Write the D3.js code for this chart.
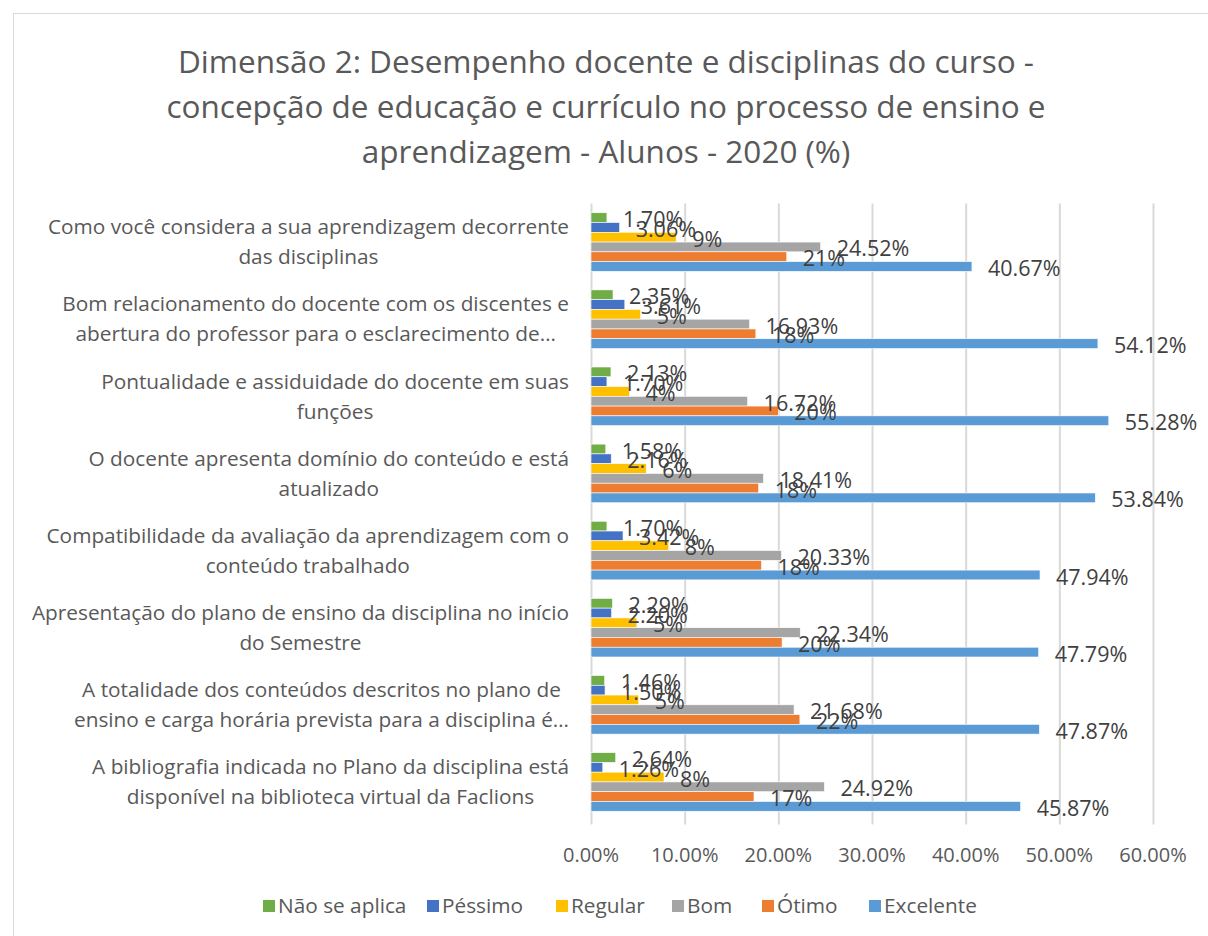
<!DOCTYPE html>
<html>
<head>
<meta charset="utf-8">
<script src="https://cdn.jsdelivr.net/npm/d3@7"></script>
<style>
  body { margin: 0; background: #fff; }
  svg text { font-family: "Open Sans", sans-serif; }
</style>
</head>
<body>
<div id="chart"></div>
<script>
// categories (two lines each, as wrapped in the original)
const categories = [
  "Como você considera a sua aprendizagem decorrente\ndas disciplinas",
  "Bom relacionamento do docente com os discentes e\nabertura do professor para o esclarecimento de…",
  "Pontualidade e assiduidade do docente em suas\nfunções",
  "O docente apresenta domínio do conteúdo e está\natualizado",
  "Compatibilidade da avaliação da aprendizagem com o\nconteúdo trabalhado",
  "Apresentação do plano de ensino da disciplina no início\ndo Semestre",
  "A totalidade dos conteúdos descritos no plano de\nensino e carga horária prevista para a disciplina é…",
  "A bibliografia indicada no Plano da disciplina está\ndisponível na biblioteca virtual da Faclions"
];

const seriesNames = ["Não se aplica", "Péssimo", "Regular", "Bom", "Ótimo", "Excelente"];

// values in percent
const naoSeAplica = [1.70, 2.35, 2.13, 1.58, 1.70, 2.29, 1.46, 2.64];
const pessimo     = [3.06, 3.61, 1.70, 2.16, 3.42, 2.20, 1.50, 1.26];
const regular     = [9.1, 5.3, 4.1, 5.9, 8.3, 4.9, 5.1, 7.8];
const bom         = [24.52, 16.93, 16.72, 18.41, 20.33, 22.34, 21.68, 24.92];
const otimo       = [20.9, 17.6, 20.0, 17.9, 18.2, 20.4, 22.3, 17.4];
const excelente   = [40.67, 54.12, 55.28, 53.84, 47.94, 47.79, 47.87, 45.87];

const xTicks = [0, 10, 20, 30, 40, 50, 60];

const titleLines = [
  "Dimensão 2: Desempenho docente e disciplinas do curso -",
  "concepção de educação e currículo no processo de ensino e",
  "aprendizagem - Alunos - 2020 (%)"
];

const seriesValues = [naoSeAplica, pessimo, regular, bom, otimo, excelente];
const seriesDecimals = [2, 2, 0, 2, 0, 2];
const colors = ["#70AD47", "#4472C4", "#FFC000", "#A5A5A5", "#ED7D31", "#5B9BD5"];

const W = 1208, H = 936;
const plot = {left: 591, right: 1153, top: 203.5, bottom: 820.5};

const svg = d3.select("#chart").append("svg")
  .attr("width", W)
  .attr("height", H);

// chart border
svg.append("rect")
  .attr("x", 13.5).attr("y", 13.5)
  .attr("width", 1200).attr("height", 940)
  .attr("fill", "#fff")
  .attr("stroke", "#d9d9d9");

// title
svg.append("g").selectAll("text")
  .data(titleLines)
  .join("text")
  .attr("x", 606)
  .attr("y", (d, i) => 62 + i * 45)
  .attr("dy", "0.35em")
  .attr("text-anchor", "middle")
  .attr("font-size", 31.5)
  .attr("fill", "#595959")
  .text(d => d);

const x = d3.scaleLinear().domain([0, 60]).range([plot.left, plot.right]);
const y0 = d3.scaleBand().domain(categories).range([plot.top, plot.bottom])
  .paddingInner(0.24).paddingOuter(0.12);
const y1 = d3.scaleBand().domain(seriesNames).range([0, y0.bandwidth()]);

// gridlines
svg.append("g")
  .attr("transform", `translate(0,${plot.bottom + 4})`)
  .call(d3.axisBottom(x).tickValues(xTicks).tickSize(-(plot.bottom - plot.top + 4)).tickFormat(""))
  .call(g => g.select(".domain").remove())
  .call(g => g.selectAll("line").attr("stroke", "#d9d9d9").attr("stroke-width", 2));

// tick labels
svg.append("g").selectAll("text")
  .data(xTicks)
  .join("text")
  .attr("x", d => x(d))
  .attr("y", 855)
  .attr("dy", "0.35em")
  .attr("text-anchor", "middle")
  .attr("font-size", 20)
  .attr("fill", "#595959")
  .text(d => d.toFixed(2) + "%");

// rows of data
const rows = categories.map((c, i) => ({
  cat: c,
  vals: seriesNames.map((s, j) => ({series: s, j: j, v: seriesValues[j][i]}))
}));

const groups = svg.append("g").selectAll("g")
  .data(rows)
  .join("g")
  .attr("transform", d => `translate(0,${y0(d.cat)})`);

groups.selectAll("rect")
  .data(d => d.vals)
  .join("rect")
  .attr("x", x(0))
  .attr("y", d => y1(d.series))
  .attr("width", d => x(d.v) - x(0))
  .attr("height", y1.bandwidth())
  .attr("fill", d => colors[d.j])
  .attr("stroke", "#fff")
  .attr("stroke-width", 0.6);

// data labels
groups.selectAll("text")
  .data(d => d.vals)
  .join("text")
  .attr("x", d => x(d.v) + 16)
  .attr("y", d => y1(d.series) + y1.bandwidth() / 2 + 2)
  .attr("dy", "0.35em")
  .attr("font-size", 21.5)
  .attr("fill", "#404040")
  .text(d => d.v.toFixed(seriesDecimals[d.j]) + "%");

// category labels, wrapped lines centred within block, block right-aligned
const catG = svg.append("g");
categories.forEach(c => {
  const lines = c.split("\n");
  const cy = y0(c) + y0.bandwidth() / 2;
  const t = catG.append("g");
  const texts = t.selectAll("text")
    .data(lines)
    .join("text")
    .attr("y", (d, i) => cy + (i - (lines.length - 1) / 2) * 30)
    .attr("dy", "0.35em")
    .attr("text-anchor", "middle")
    .attr("font-size", 20.8)
    .attr("fill", "#595959")
    .text(d => d);
  let maxW = 0;
  texts.each(function() { maxW = Math.max(maxW, this.getComputedTextLength()); });
  texts.attr("x", 569 - maxW / 2);
});

// legend
const legendX = [263, 427, 556, 672, 762, 869];
const legend = svg.append("g").selectAll("g")
  .data(seriesNames)
  .join("g")
  .attr("transform", (d, i) => `translate(${legendX[i]},906)`);
legend.append("rect")
  .attr("x", 0).attr("y", -6)
  .attr("width", 12).attr("height", 12)
  .attr("fill", (d, i) => colors[i]);
legend.append("text")
  .attr("x", 15)
  .attr("dy", "0.35em")
  .attr("font-size", 20.8)
  .attr("fill", "#595959")
  .text(d => d);
</script>
</body>
</html>
